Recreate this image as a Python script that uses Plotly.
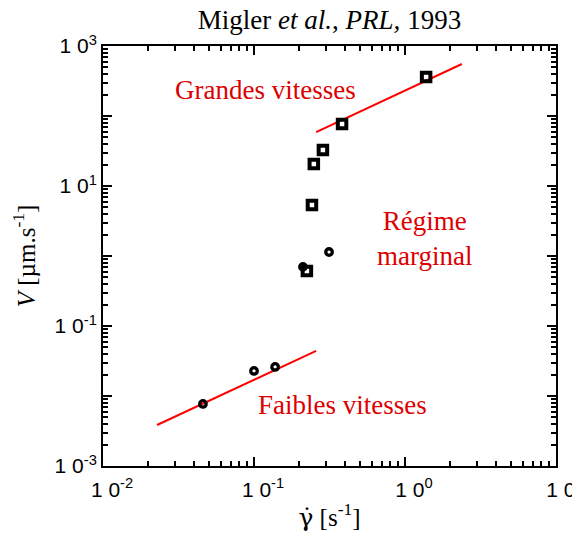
import plotly.graph_objects as go
import numpy as np

# --- data ---
square_x = [0.224, 0.242, 0.249, 0.286, 0.383, 1.38]
square_y = [0.61, 5.35, 20.6, 32.7, 77, 361]

circle_x = [0.0459, 0.100, 0.138, 0.211, 0.314]
circle_y = [0.0077, 0.0228, 0.026, 0.70, 1.14]

low_fit_x = [0.0228, 0.258]
low_fit_y = [0.00385, 0.044]
high_fit_x = [0.258, 2.38]
high_fit_y = [59, 553]

x_tickvals = [0.01, 0.1, 1, 10]
x_ticktext = ["1 0<sup>-2</sup>", "1 0<sup>-1</sup>", "1 0<sup>0</sup>", "1 0<sup>1</sup>"]
y_tickvals = [1e-3, 1e-2, 1e-1, 1, 10, 100, 1000]
y_ticktext = ["1 0<sup>-3</sup>", "", "1 0<sup>-1</sup>", "", "1 0<sup>1</sup>", "", "1 0<sup>3</sup>"]

RED_LINE = "#ff0000"
RED_TEXT = "#dd0000"
SERIF = "Liberation Serif, Times New Roman, serif"
SANS = "Liberation Sans, Arial, Helvetica, sans-serif"


def minor_vals(lo, hi):
    vals = []
    for e in range(lo, hi):
        for m in range(2, 10):
            vals.append(m * 10.0 ** e)
    return vals


fig = go.Figure()
fig.add_trace(go.Scatter(x=low_fit_x, y=low_fit_y, mode="lines",
                         line=dict(color=RED_LINE, width=2), showlegend=False))
fig.add_trace(go.Scatter(x=high_fit_x, y=high_fit_y, mode="lines",
                         line=dict(color=RED_LINE, width=2), showlegend=False))
fig.add_trace(go.Scatter(x=square_x, y=square_y, mode="markers",
                         marker=dict(symbol="square-open", size=8.5, color="black",
                                     line=dict(width=4, color="black")),
                         showlegend=False))
fig.add_trace(go.Scatter(x=circle_x, y=circle_y, mode="markers",
                         marker=dict(symbol="circle-open", size=6.5, color="black",
                                     line=dict(width=3.3, color="black")),
                         showlegend=False))

axis_common = dict(
    type="log", showgrid=False, zeroline=False, showline=True,
    linecolor="black", linewidth=2, mirror="allticks",
    ticks="inside", ticklen=9, tickwidth=1.5, tickcolor="black",
    tickmode="array", automargin=False, ticklabeloverflow="allow",
    tickfont=dict(family=SANS, size=21, color="black"),
)

fig.update_xaxes(
    **axis_common, range=[-2, 1],
    tickvals=x_tickvals, ticktext=x_ticktext, ticklabelshift=9, ticklabelstandoff=4,
    minor=dict(ticks="inside", ticklen=5, tickwidth=1.5, tickcolor="black",
               tickmode="array", tickvals=minor_vals(-2, 1), showgrid=False),
    title=dict(text="<span style=\"font-family:'DejaVu Serif'\">γ\u0307</span> [s<sup>-1</sup>]",
               font=dict(family=SERIF, size=25, color="black"),
               standoff=8),
)
fig.update_yaxes(
    **axis_common, range=[-3, 3],
    tickvals=y_tickvals, ticktext=y_ticktext,
    minor=dict(ticks="inside", ticklen=5, tickwidth=1.5, tickcolor="black",
               tickmode="array", tickvals=minor_vals(-3, 3), showgrid=False),
    title=dict(text="<i>V</i> [µm.s<sup>-1</sup>]", font=dict(family=SERIF, size=25, color="black"),
               standoff=12),
)

ann_font = dict(family=SERIF, size=27, color=RED_TEXT)
fig.add_annotation(x=-0.927, y=2.371, xref="x", yref="y", text="Grandes vitesses",
                   showarrow=False, font=ann_font)
fig.add_annotation(x=0.132, y=0.257, xref="x", yref="y", text="Régime<br>marginal",
                   showarrow=False, font=ann_font)
fig.add_annotation(x=-0.417, y=-2.129, xref="x", yref="y", text="Faibles vitesses",
                   showarrow=False, font=ann_font)

# page body adds an 8px offset, so margins are shifted to compensate
fig.update_layout(
    width=580, height=543,
    margin=dict(l=95, r=32, t=38, b=85),
    paper_bgcolor="white", plot_bgcolor="white",
    title=dict(text="Migler <i>et al.</i>, <i>PRL,</i> 1993",
               font=dict(family=SERIF, size=27, color="black"),
               x=0.5, xanchor="center", xref="paper",
               y=1 - 12 / 543, yanchor="middle", yref="container"),
)

fig.write_html("out.html")
